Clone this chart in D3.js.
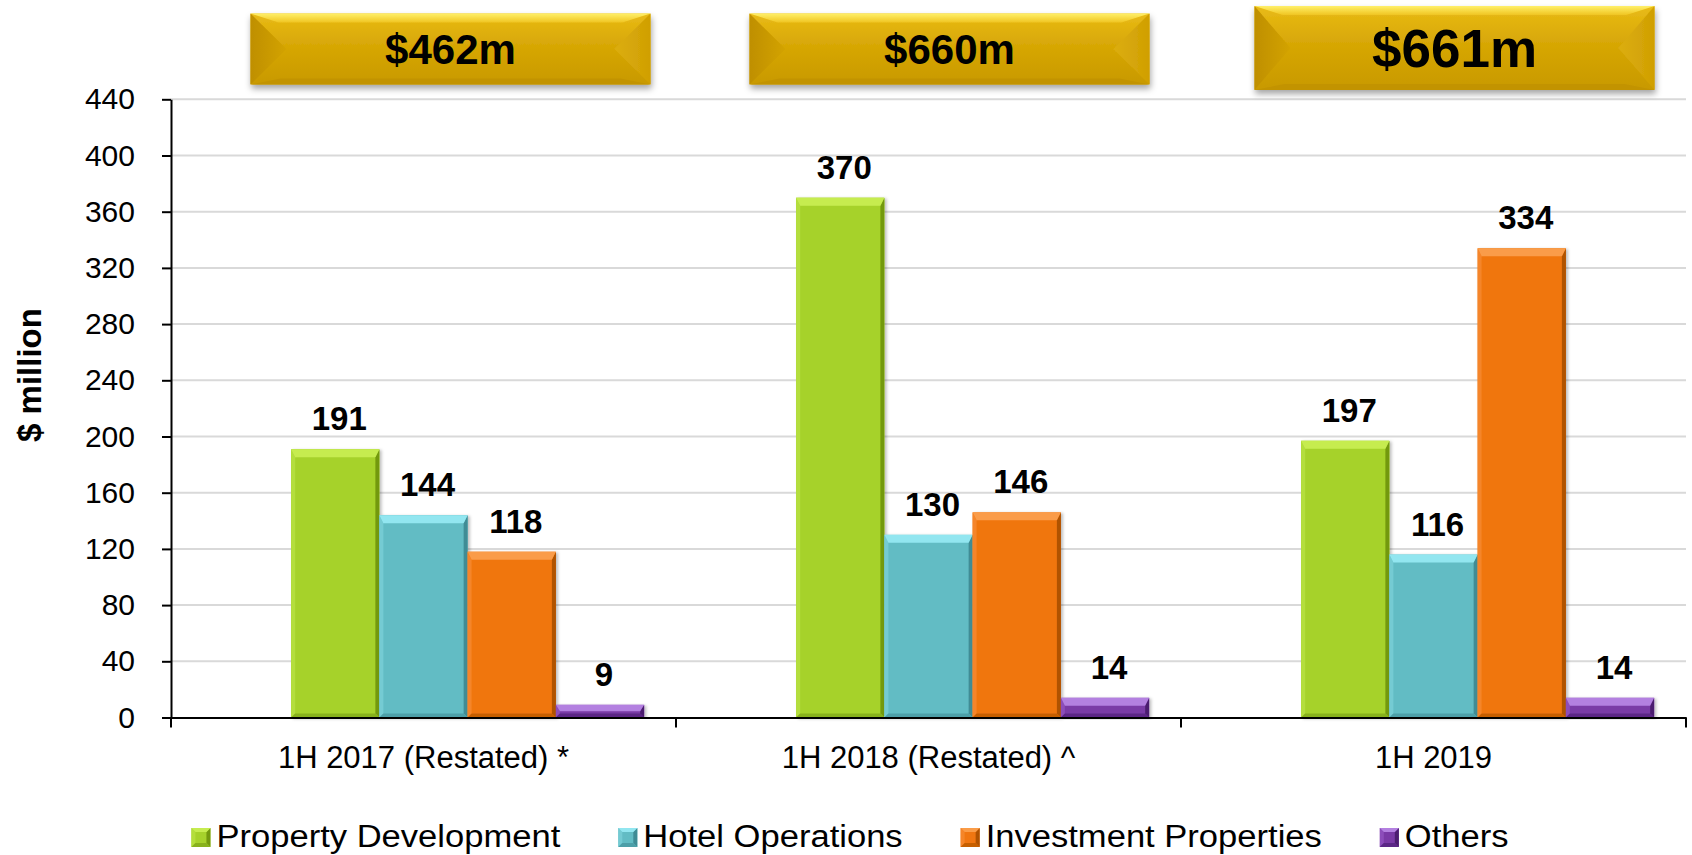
<!doctype html>
<html lang="en">
    <head>
        <meta charset="UTF-8" />
        <title>Revenue by Segment</title>
        <script src="https://d3js.org/d3.v7.min.js"></script>
        <style>
            body {
                margin: 0;
                background: #fff;
                font-family: Arial, "Liberation Sans", sans-serif;
            }
            svg {
                display: block;
            }
            .axis text {
                font-size: 30px;
                fill: #000;
            }
        </style>
    </head>
    <body>
        <svg id="chart" width="1692" height="855"></svg>
        <script>
            // data
            const periods = ["1H 2017 (Restated) *", "1H 2018 (Restated) ^", "1H 2019"];
            const series = ["Property Development", "Hotel Operations", "Investment Properties", "Others"];
            const propertyDevelopment = [191, 370, 197];
            const hotelOperations = [144, 130, 116];
            const investmentProperties = [118, 146, 334];
            const others = [9, 14, 14];
            const totals = [462, 660, 661];
            const yTicks = [0, 40, 80, 120, 160, 200, 240, 280, 320, 360, 400, 440];

            const values = [propertyDevelopment, hotelOperations, investmentProperties, others];

            // face, top, left, right, bottom
            const palette = [
                ["#a6d22c", "#c6ec50", "#b4de3c", "#73990f", "#88b11d"],
                ["#62bcc4", "#92e6f0", "#74cbd3", "#3f8c95", "#4d9fa8"],
                ["#f07611", "#fa9c48", "#f58529", "#b05200", "#c65f00"],
                ["#7a3aa6", "#b380e0", "#8c4dba", "#4c1d70", "#5b2786"],
            ];

            const svg = d3.select("#chart");
            const width = +svg.attr("width");
            const height = +svg.attr("height");
            const margin = { top: 99.3, right: 6, bottom: 137.5, left: 171 };

            const x0 = d3
                .scaleBand()
                .domain(periods)
                .range([margin.left, width - margin.right]);

            // first slot is an empty (hidden) series, as in the original
            const x1 = d3
                .scaleBand()
                .domain(["hidden", ...series])
                .range([0, x0.bandwidth()])
                .paddingInner(0)
                .paddingOuter(0.361);

            const y = d3
                .scaleLinear()
                .domain([0, 440])
                .range([height - margin.bottom, margin.top]);

            const defs = svg.append("defs");
            const shadow = defs.append("filter").attr("id", "shadow")
                .attr("x", "-10%").attr("y", "-20%").attr("width", "120%").attr("height", "150%");
            shadow.append("feDropShadow").attr("dx", 1).attr("dy", 4).attr("stdDeviation", 3)
                .attr("flood-color", "#000").attr("flood-opacity", 0.35);
            const barShadow = defs.append("filter").attr("id", "barShadow")
                .attr("x", "-10%").attr("y", "-10%").attr("width", "125%").attr("height", "120%");
            barShadow.append("feDropShadow").attr("dx", 2).attr("dy", 1).attr("stdDeviation", 1.5)
                .attr("flood-color", "#000").attr("flood-opacity", 0.25);

            function grad(id, stops, vertical = true) {
                const g = defs.append("linearGradient").attr("id", id)
                    .attr("x1", 0).attr("y1", 0)
                    .attr("x2", vertical ? 0 : 1).attr("y2", vertical ? 1 : 0);
                stops.forEach(([o, c]) => g.append("stop").attr("offset", o).attr("stop-color", c));
            }
            grad("goldFace", [[0, "#e9bb16"], [0.45, "#d7a706"], [1, "#c89900"]]);
            grad("goldTop", [[0, "#fff06a"], [1, "#f0c521"]]);
            grad("goldLeft", [[0, "#bf8f00"], [1, "#d3a304"]], false);
            grad("goldRight", [[0, "#dcae10"], [1, "#d09f02"]], false);

            // gridlines
            svg.append("g")
                .selectAll("line")
                .data(yTicks.filter((d) => d > 0))
                .join("line")
                .attr("x1", margin.left)
                .attr("x2", width - margin.right)
                .attr("y1", (d) => y(d))
                .attr("y2", (d) => y(d))
                .attr("stroke", "#d9d9d9")
                .attr("stroke-width", 2);

            function poly(g, pts, fill) {
                g.append("polygon").attr("points", pts.map((p) => p.join(",")).join(" ")).attr("fill", fill);
            }

            function bevelRect(g, x, yTop, w, h, c, t, s, b) {
                t = Math.min(t, h / 2);
                b = Math.min(b, h / 2);
                g.append("rect").attr("x", x).attr("y", yTop).attr("width", w).attr("height", h).attr("fill", c[0]);
                poly(g, [[x, yTop], [x + s, yTop + t], [x + s, yTop + h - b], [x, yTop + h]], c[2]);
                poly(g, [[x + w, yTop], [x + w, yTop + h], [x + w - s, yTop + h - b], [x + w - s, yTop + t]], c[3]);
                poly(g, [[x, yTop + h], [x + w, yTop + h], [x + w - s, yTop + h - b], [x + s, yTop + h - b]], c[4]);
                poly(g, [[x, yTop], [x + w, yTop], [x + w - s, yTop + t], [x + s, yTop + t]], c[1]);
            }

            // bars
            const bars = svg.append("g");
            periods.forEach((p, i) => {
                series.forEach((s, j) => {
                    const v = values[j][i];
                    const bx = x0(p) + x1(s);
                    const g = bars.append("g").attr("filter", "url(#barShadow)");
                    bevelRect(g, bx, y(v), x1.bandwidth(), y(0) - y(v), palette[j], 8, 4, 4);
                });
            });

            // value labels
            svg.append("g")
                .selectAll("text")
                .data(periods.flatMap((p, i) => series.map((s, j) => ({ p, s, v: values[j][i] }))))
                .join("text")
                .attr("x", (d) => x0(d.p) + x1(d.s) + x1.bandwidth() / 2 + 4)
                .attr("y", (d) => y(d.v) - 19)
                .attr("text-anchor", "middle")
                .style("font-size", "33px")
                .style("font-weight", "bold")
                .text((d) => d.v);

            // y axis
            const yAxis = svg.append("g")
                .attr("class", "axis")
                .attr("transform", `translate(${margin.left},0)`)
                .call(d3.axisLeft(y).tickValues(yTicks).tickSize(9).tickSizeOuter(0).tickPadding(27));
            yAxis.selectAll("path, line").attr("stroke", "#000").attr("stroke-width", 2);

            // x axis
            const xAxis = svg.append("g")
                .attr("class", "axis")
                .attr("transform", `translate(0,${y(0)})`)
                .call(d3.axisBottom(x0).tickSize(0).tickPadding(28));
            xAxis.select(".domain").attr("stroke", "#000").attr("stroke-width", 2);
            xAxis.selectAll("text").style("font-size", "31px");
            svg.append("g")
                .selectAll("line")
                .data([...periods.map((p) => x0(p)), x0.range()[1]])
                .join("line")
                .attr("x1", (d) => d)
                .attr("x2", (d) => d)
                .attr("y1", y(0))
                .attr("y2", y(0) + 10)
                .attr("stroke", "#000")
                .attr("stroke-width", 2);

            // y label
            svg.append("text")
                .attr("transform", `translate(41,375) rotate(-90)`)
                .attr("text-anchor", "middle")
                .style("font-size", "33px")
                .style("font-weight", "bold")
                .text("$ million");

            // total banners
            const bannerGold = ["url(#goldFace)", "url(#goldTop)", "url(#goldLeft)", "url(#goldRight)", "#c29300"];
            periods.forEach((p, i) => {
                const big = i === periods.length - 1;
                const bw = 400;
                const bh = big ? 84 : 71;
                const bx = x0(p) + x0.bandwidth() / 2 - bw / 2 + (i === 0 ? 27 : 21);
                const by = big ? 6 : 13.5;
                const g = svg.append("g").attr("filter", "url(#shadow)");
                const c = bannerGold;
                g.append("rect").attr("x", bx).attr("y", by).attr("width", bw).attr("height", bh).attr("fill", c[0]);
                poly(g, [[bx, by], [bx + 36, by + bh / 2], [bx, by + bh]], c[2]);
                poly(g, [[bx + bw, by], [bx + bw, by + bh], [bx + bw - 36, by + bh / 2]], c[3]);
                poly(g, [[bx, by + bh], [bx + bw, by + bh], [bx + bw - 30, by + bh - 6], [bx + 30, by + bh - 6]], c[4]);
                poly(g, [[bx, by], [bx + bw, by], [bx + bw - 28, by + 9], [bx + 28, by + 9]], c[1]);
                const fs = big ? 53 : 42;
                svg.append("text")
                    .attr("x", bx + bw / 2)
                    .attr("y", by + bh / 2 + fs * 0.36)
                    .attr("text-anchor", "middle")
                    .style("font-size", fs + "px")
                    .style("font-weight", "bold")
                    .text(`$${totals[i]}m`);
            });

            // legend
            const stretch = 1.115;
            const legend = svg.append("g");
            const items = legend.selectAll("g").data(series).join("g");
            items.each(function (d, j) {
                const g = d3.select(this);
                bevelRect(g.append("g"), 0, -19, 19, 19, palette[j], 4, 4, 4);
                g.append("text")
                    .attr("transform", `translate(25,0) scale(${stretch},1)`)
                    .style("font-size", "31px")
                    .text(d);
            });
            const gap = 58;
            const widths = [];
            items.each(function () {
                const t = d3.select(this).select("text").node();
                widths.push(25 + t.getComputedTextLength() * stretch);
            });
            const total = d3.sum(widths) + gap * (widths.length - 1);
            let lx = width / 2 - total / 2 + 4;
            items.each(function (d, j) {
                d3.select(this).attr("transform", `translate(${lx},847)`);
                lx += widths[j] + gap;
            });
        </script>
    </body>
</html>
